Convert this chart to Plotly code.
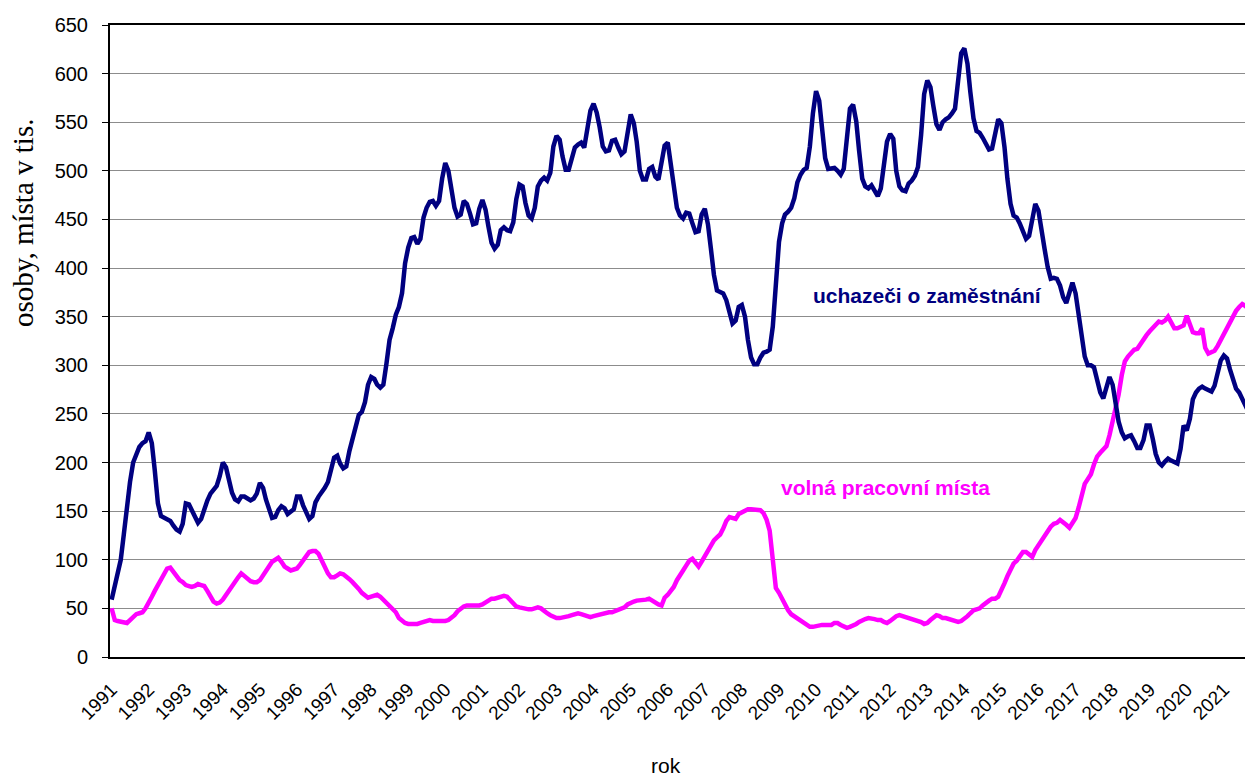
import pandas as pd
import plotly.graph_objects as go

# monthly values (thousands), Jan 1991 .. Sep 2021
job_seekers = [
    59, 72, 85, 100, 126, 155, 180, 200, 209, 216, 220, 222,      # 1991
    231, 220, 192, 158, 145, 143, 142, 140, 135, 131, 129, 137,   # 1992
    158, 157, 151, 145, 138, 142, 153, 161, 168, 172, 176, 186,   # 1993
    200, 195, 182, 169, 162, 160, 165, 165, 163, 161, 163, 168,   # 1994
    179, 174, 162, 152, 143, 144, 151, 155, 153, 147, 149, 152,   # 1995
    165, 165, 156, 148, 142, 145, 159, 165, 169, 174, 180, 193,   # 1996
    205, 207, 199, 194, 196, 212, 225, 240, 249, 252, 262, 280,   # 1997
    288, 286, 280, 277, 280, 302, 326, 338, 352, 360, 374, 405,   # 1998
    421, 431, 432, 425, 430, 452, 462, 468, 469, 464, 469, 492,   # 1999
    508, 500, 484, 462, 453, 455, 469, 466, 456, 445, 446, 461,   # 2000
    470, 460, 443, 426, 420, 424, 439, 442, 439, 438, 447, 471,   # 2001
    486, 484, 467, 454, 451, 462, 484, 490, 493, 490, 498, 525,   # 2002
    536, 532, 515, 501, 501, 512, 524, 527, 529, 524, 541, 562,   # 2003
    569, 560, 545, 525, 520, 521, 531, 532, 524, 517, 520, 541,   # 2004
    558, 549, 530, 500, 491, 491, 502, 504, 494, 491, 508, 526,   # 2005
    529, 507, 481, 462, 454, 451, 457, 456, 446, 437, 438, 455,   # 2006
    461, 445, 421, 393, 377, 376, 374, 367, 355, 343, 346, 360,   # 2007
    362, 350, 326, 308, 301, 301, 308, 313, 314, 316, 340, 387,   # 2008
    427, 446, 455, 458, 462, 472, 488, 496, 501, 503, 525, 559,   # 2009
    582, 572, 538, 513, 502, 503, 503, 500, 496, 502, 540, 564,   # 2010
    568, 551, 521, 492, 484, 482, 485, 479, 474, 482, 510, 530,   # 2011
    538, 533, 500, 484, 480, 479, 487, 490, 495, 504, 537, 579,   # 2012
    593, 586, 567, 548, 542, 550, 553, 555, 559, 564, 593, 621,   # 2013
    626, 610, 581, 554, 541, 539, 534, 528, 522, 523, 536, 553,   # 2014
    549, 524, 492, 466, 454, 452, 446, 438, 430, 433, 452, 466,   # 2015
    459, 442, 420, 401, 389, 390, 389, 382, 370, 364, 373, 385,   # 2016
    374, 353, 332, 309, 300, 300, 298, 286, 272, 266, 276, 288,   # 2017
    280, 260, 242, 231, 225, 227, 228, 222, 215, 215, 223, 238,   # 2018
    238, 224, 209, 200, 197, 201, 204, 202, 200, 199, 214, 238,   # 2019
    233, 245, 265, 272, 276, 278, 276, 274, 273, 279, 294, 305,   # 2020
    310, 307, 296, 284, 276, 272, 265, 258, 252,                  # 2021
]

vacancies = [
    50, 38, 37, 36, 36, 35, 38, 41, 44, 45, 46, 50,               # 1991
    55, 62, 68, 74, 81, 87, 91, 92, 87, 82, 79, 77,               # 1992
    74, 73, 72, 73, 75, 74, 73, 68, 62, 57, 55, 56,               # 1993
    59, 64, 68, 73, 77, 82, 86, 83, 80, 78, 77, 77,               # 1994
    79, 84, 89, 95, 98, 100, 102, 98, 93, 91, 89, 90,             # 1995
    91, 95, 99, 104, 108, 109, 109, 106, 99, 91, 86, 82,          # 1996
    82, 84, 86, 85, 83, 80, 77, 74, 70, 66, 63, 61,               # 1997
    62, 63, 64, 62, 59, 56, 53, 50, 46, 40, 37, 35,               # 1998
    34, 34, 33, 34, 35, 36, 37, 38, 37, 37, 36, 36,               # 1999
    37, 38, 40, 43, 47, 50, 52, 53, 53, 52, 52, 53,               # 2000
    54, 56, 58, 60, 60, 61, 61, 63, 62, 59, 55, 52,               # 2001
    51, 50, 50, 49, 49, 50, 51, 50, 47, 45, 43, 41,               # 2002
    40, 40, 41, 41, 42, 43, 44, 45, 44, 43, 41, 41,               # 2003
    42, 43, 43, 44, 45, 46, 46, 47, 48, 49, 51, 54,               # 2004
    56, 57, 58, 58, 58, 59, 60, 58, 55, 54, 53, 61,               # 2005
    64, 68, 72, 79, 85, 89, 94, 99, 101, 97, 93, 98,              # 2006
    104, 108, 114, 120, 123, 126, 132, 140, 144, 143, 142, 147,   # 2007
    149, 151, 152, 152, 152, 152, 151, 148, 141, 130, 102, 71,    # 2008
    66, 59, 53, 48, 44, 42, 40, 38, 36, 33, 31, 31,               # 2009
    32, 33, 33, 33, 33, 33, 35, 35, 33, 32, 30, 31,               # 2010
    32, 34, 36, 38, 39, 40, 40, 39, 38, 38, 36, 35,               # 2011
    37, 40, 42, 43, 42, 42, 41, 40, 39, 38, 36, 34,               # 2012
    35, 38, 41, 43, 42, 40, 40, 39, 38, 37, 36, 37,               # 2013
    39, 42, 45, 48, 49, 50, 53, 56, 58, 60, 60, 62,               # 2014
    68, 76, 83, 90, 96, 99, 104, 108, 108, 106, 103, 110,         # 2015
    115, 120, 125, 130, 134, 137, 138, 141, 139, 136, 133, 138,   # 2016
    143, 154, 168, 178, 183, 188, 198, 206, 210, 214, 217, 228,   # 2017
    242, 255, 270, 290, 304, 309, 313, 316, 317, 322, 325, 331,   # 2018
    335, 339, 341, 345, 344, 346, 350, 344, 338, 338, 339, 341,   # 2019
    351, 343, 334, 333, 333, 338, 318, 312, 313, 315, 320, 326,   # 2020
    334, 340, 344, 351, 356, 360, 363, 361, 358,                  # 2021
]

years = [str(y) for y in range(1991, 2022)]
months = pd.date_range("1991-01-01", periods=len(job_seekers), freq="MS")

label_seekers = "uchazeči o zaměstnání"
label_vacancies = "volná pracovní místa"
y_title = "osoby, místa v tis."
x_title = "rok"

NAVY = "#000080"
PINK = "#FF00FF"
SANS = "Liberation Sans, Arial, sans-serif"
SERIF = "Liberation Serif, Times New Roman, serif"

fig = go.Figure()
fig.add_trace(go.Scatter(x=months, y=vacancies, mode="lines",
                         line=dict(color=PINK, width=4.5), name=label_vacancies))
fig.add_trace(go.Scatter(x=months, y=job_seekers, mode="lines",
                         line=dict(color=NAVY, width=4.5), name=label_seekers))

fig.update_layout(
    width=1245, height=778,
    margin=dict(l=110, r=0, t=25, b=121),
    paper_bgcolor="white", plot_bgcolor="white",
    showlegend=False,
    font=dict(family=SANS, size=20, color="black"),
)
fig.update_xaxes(
    type="date",
    range=["1990-12-16", "2021-07-28"],
    tickvals=[pd.Timestamp(f"{y}-01-01") for y in years],
    ticktext=years,
    tickangle=-45,
    tickfont=dict(family=SANS, size=19),
    showgrid=False, zeroline=False,
    showline=True, linecolor="black", linewidth=2, mirror=True,
    ticks="outside", ticklen=12, tickcolor="rgba(0,0,0,0)",
)
fig.update_yaxes(
    range=[0, 650], dtick=50,
    tickfont=dict(family=SANS, size=20),
    showgrid=True, gridcolor="#8c8c8c", gridwidth=1,
    zeroline=False,
    showline=True, linecolor="black", linewidth=2,
    ticks="outside", ticklen=6, tickcolor="black", tickwidth=1,
    ticklabelstandoff=10,
)

fig.add_annotation(x=pd.Timestamp("2013-01-01"), y=372, text=f"<b>{label_seekers}</b>",
                   showarrow=False, xanchor="center", yanchor="middle",
                   font=dict(family=SANS, size=21, color=NAVY))
fig.add_annotation(x=pd.Timestamp("2011-11-15"), y=174, text=f"<b>{label_vacancies}</b>",
                   showarrow=False, xanchor="center", yanchor="middle",
                   font=dict(family=SANS, size=21, color=PINK))
fig.add_annotation(xref="paper", yref="paper", x=-0.0767, y=0.6867, text=y_title,
                   textangle=-90, showarrow=False, xanchor="center", yanchor="middle",
                   font=dict(family=SERIF, size=29, color="black"))
fig.add_annotation(xref="paper", yref="paper", x=0.49, y=-0.171, text=x_title,
                   showarrow=False, xanchor="center", yanchor="middle",
                   font=dict(family=SANS, size=21, color="black"))

fig.write_html(
    "out.html",
    config={"displayModeBar": False},
    post_script="document.body.style.margin='0';document.body.style.overflow='hidden';",
)
